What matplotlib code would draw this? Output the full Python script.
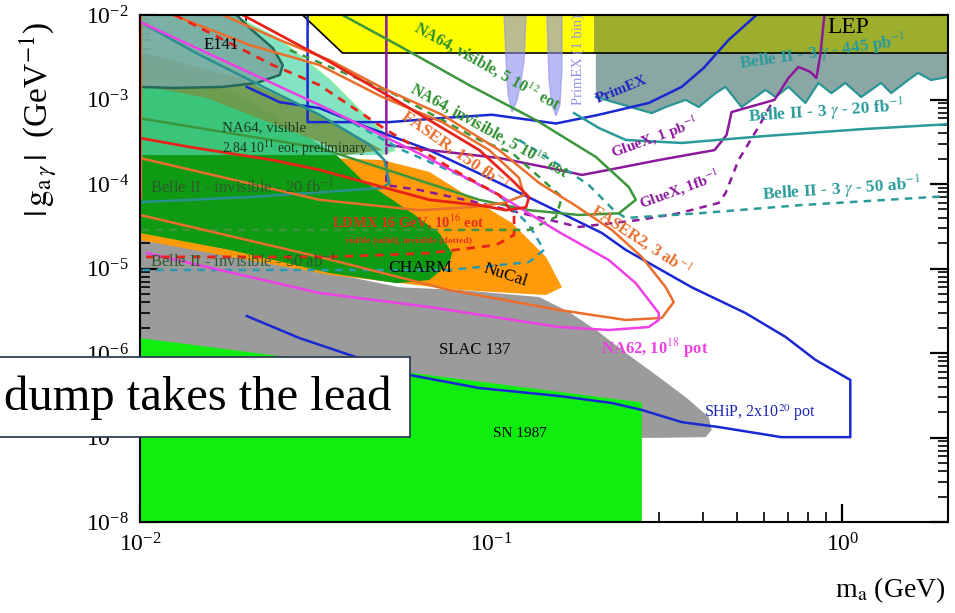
import numpy as np
import matplotlib
matplotlib.use("Agg")
import matplotlib.pyplot as plt
from matplotlib.patches import Rectangle

plt.rcParams['font.family'] = ['Liberation Serif', 'DejaVu Serif']
plt.rcParams['mathtext.fontset'] = 'stix'

# ---------------- data (mass in GeV, coupling in GeV^-1) ----------------
slac_m = [0.01, 0.018, 0.0347, 0.0548, 0.0811, 0.1369, 0.1666, 0.2027, 0.2418, 0.3001, 0.3581, 0.4163, 0.4245, 0.4082, 0.3001, 0.2685, 0.2685, 0.01]
slac_g = [2.63e-5, 1.66e-5, 8.85e-6, 6.0e-6, 5.57e-6, 4.6e-6, 3.06e-6, 1.77e-6, 1.0e-6, 5.2e-7, 3.0e-7, 1.75e-7, 1.23e-7, 1.01e-7, 9.9e-8, 9.9e-8, 1e-8, 1e-8]

sn_m = [0.01, 0.2685, 0.2685, 0.01]
sn_g = [1.5e-6, 2.6e-7, 1e-8, 1e-8]

nucal_m = [0.01, 0.03466, 0.049, 0.06667, 0.0849, 0.1147, 0.1433, 0.1591, 0.1433, 0.0811, 0.03466, 0.01]
nucal_g = [3.32e-4, 2.03e-4, 1.92e-4, 1.39e-4, 7.4e-5, 3.45e-5, 1.37e-5, 6.0e-6, 4.85e-6, 5.57e-6, 8.4e-6, 2.17e-5]

charm_m = [0.01, 0.02054, 0.03628, 0.043, 0.049, 0.05965, 0.07117, 0.0775, 0.076, 0.06667, 0.05372, 0.03466, 0.01802, 0.01]
charm_g = [2.93e-3, 9.9e-4, 2.2e-4, 1.11e-4, 7.8e-5, 4.5e-5, 2.63e-5, 1.52e-5, 1.16e-5, 7.3e-6, 6.7e-6, 8.85e-6, 1.66e-5, 2.63e-5]

na64vis_m = [0.01, 0.01837, 0.025, 0.03466, 0.04503, 0.05198, 0.05302, 0.04807, 0.01]
na64vis_g = [1e-2, 1e-2, 5.06e-3, 1.7e-3, 5.7e-4, 3.32e-4, 2.52e-4, 2.2e-4, 2.2e-4]

olive_m = [0.01, 0.01923, 0.03245, 0.049, 0.03822, 0.03245, 0.0155, 0.01]
olive_g = [3.65e-3, 1.8e-3, 6.6e-4, 2.52e-4, 2.2e-4, 3.14e-4, 1.04e-3, 1.48e-3]

e141_m = [0.01, 0.01886, 0.02054, 0.02387, 0.0255, 0.025, 0.0215, 0.01721, 0.01241, 0.01]
e141_g = [1e-2, 1e-2, 7.0e-3, 4.07e-3, 2.56e-3, 1.95e-3, 1.57e-3, 1.41e-3, 1.37e-3, 1.41e-3]

yellow_m = [0.02904, 0.03773, 0.1961, 0.1961]
yellow_g = [1e-2, 3.55e-3, 3.55e-3, 1e-2]

lep_m = [0.1961, 2.0, 2.0, 0.1961]
lep_g = [1e-2, 1e-2, 3.55e-3, 3.55e-3]

belle445_m = [0.1987, 0.1987, 0.2387, 0.2867, 0.3142, 0.3581, 0.3899, 0.4357, 0.4651, 0.5165, 0.5514, 0.6044, 0.6454,
              0.7027, 0.7852, 0.8549, 0.9308, 1.02, 1.132, 1.29, 1.378, 1.54, 1.644, 1.79, 2.0, 2.0]
belle445_g = [3.55e-3, 1.07e-3, 8.6e-4, 6.9e-4, 8.15e-4, 9.9e-4, 8.15e-4, 1.19e-3, 1.41e-3, 8.15e-4, 9.9e-4, 1.3e-3, 1.07e-3,
              1.41e-3, 9.1e-4, 1.57e-3, 1.19e-3, 1.57e-3, 1.07e-3, 1.57e-3, 1.19e-3, 1.7e-3, 2.06e-3, 1.7e-3, 1.85e-3, 3.55e-3]

primex_bin1_m = [0.1089, 0.1103, 0.1118, 0.1147, 0.1186, 0.1217, 0.1241, 0.1257]
primex_bin1_g = [1e-2, 2.93e-3, 1.13e-3, 7.1e-4, 9.9e-4, 1.7e-3, 2.93e-3, 1e-2]
primex_bin2_m = [0.1442, 0.1461, 0.149, 0.153, 0.157, 0.1591, 0.1591]
primex_bin2_g = [1e-2, 1.7e-3, 8.6e-4, 6.4e-4, 8.6e-4, 2.23e-3, 1e-2]

ship_m = [0.02014, 0.025, 0.03245, 0.04415, 0.06667, 0.1054, 0.156, 0.2067, 0.2418, 0.3724, 0.5301, 0.6891, 0.8383, 1.054,
          1.054, 0.6712, 0.4443, 0.3488, 0.2685, 0.2207, 0.156, 0.0925, 0.05848, 0.0395, 0.02848, 0.02014]
ship_g = [1.41e-3, 9.3e-4, 7.9e-4, 4.73e-4, 2.52e-4, 1.03e-4, 4.66e-5, 2.63e-5, 1.66e-5, 6.0e-6, 2.97e-6, 1.55e-6, 8.3e-7, 4.8e-7,
          1.01e-7, 1.01e-7, 1.33e-7, 1.52e-7, 2.12e-7, 2.56e-7, 3.1e-7, 3.85e-7, 5.5e-7, 9.5e-7, 1.5e-6, 2.74e-6]

primex_m = [0.03001, 0.03001, 0.0513, 0.07117, 0.1006, 0.153, 0.2027, 0.2811, 0.3488, 0.4029, 0.4743, 0.5697]
primex_g = [1e-2, 5.4e-4, 5.4e-4, 6.0e-4, 6.6e-4, 5.2e-4, 6.6e-4, 9.1e-4, 1.41e-3, 2.36e-3, 5.06e-3, 1e-2]

gluex1pb_m = [0.0503, 0.0503, 0.06667, 0.1054, 0.156, 0.1814, 0.2163, 0.3001, 0.4328, 0.4682, 0.4838, 0.6412, 0.7027,
              0.7499, 0.8113, 0.8438, 0.866, 0.8889]
gluex1pb_g = [1e-2, 2.9e-4, 2.52e-4, 2.03e-4, 1.47e-4, 1.28e-4, 1.47e-4, 1.92e-4, 2.52e-4, 3.8e-4, 7.1e-4, 9.9e-4, 1.8e-3,
              2.43e-3, 2.12e-3, 1.8e-3, 3.36e-3, 1e-2]

gluex1fb_m = [0.0503, 0.0503, 0.06245, 0.0925, 0.1282, 0.1778, 0.2633, 0.342, 0.4443, 0.4651, 0.5064, 0.5773, 0.6368]
gluex1fb_g = [2.74e-4, 9.7e-5, 8.5e-5, 5.96e-5, 4.3e-5, 3.1e-5, 3.75e-5, 4.5e-5, 5.96e-5, 7.8e-5, 1.92e-4, 4.73e-4, 9.9e-4]

belle20fb_m = [0.1722, 0.2027, 0.2418, 0.3488, 0.6044, 1.162, 2.0]
belle20fb_g = [6.9e-4, 4.6e-4, 3.32e-4, 3.06e-4, 3.7e-4, 4.48e-4, 5.1e-4]

belle50ab_m = [0.1201, 0.156, 0.1898, 0.2236, 0.2418, 0.3899, 0.7499, 2.0]
belle50ab_g = [3.32e-4, 1.68e-4, 9.7e-5, 4.9e-5, 3.96e-5, 4.5e-5, 5.6e-5, 7.2e-5]

belleinv20_m = [0.01, 0.01481, 0.02193, 0.03245, 0.04503, 0.04966, 0.0513, 0.049, 0.02054, 0.01]
belleinv20_g = [8.3e-3, 3.36e-3, 1.48e-3, 6.6e-4, 2.9e-4, 1.92e-4, 1.03e-4, 8.97e-5, 7.0e-5, 6.1e-5]

belleinv50_m = [0.03466, 0.05587, 0.0811, 0.1054, 0.1282, 0.1414, 0.1282, 0.076, 0.01]
belleinv50_g = [7.5e-4, 2.52e-4, 1.28e-4, 7.4e-5, 3.27e-5, 1.66e-5, 1.19e-5, 9.6e-6, 9.6e-6]

ldmxvis_m = [0.01962, 0.03399, 0.05478, 0.0925, 0.1147, 0.1282, 0.1257, 0.1103, 0.0925, 0.06667, 0.03245, 0.02387, 0.01387, 0.01]
ldmxvis_g = [1e-2, 2.93e-3, 9.3e-4, 2.52e-4, 1.11e-4, 7.0e-5, 5.3e-5, 4.9e-5, 5.6e-5, 6.5e-5, 1.47e-4, 1.92e-4, 2.74e-4, 3.5e-4]

ldmxinv_m = [0.01257, 0.02387, 0.03245, 0.0503, 0.0811, 0.1054, 0.1162, 0.1162, 0.1033, 0.06667, 0.03466, 0.01]
ldmxinv_g = [1e-2, 2.56e-3, 1.48e-3, 4.36e-4, 1.35e-4, 7.4e-5, 4.3e-5, 2.49e-5, 1.9e-5, 1.52e-5, 1.37e-5, 1.37e-5]

na62_m = [0.01, 0.03245, 0.06368, 0.1054, 0.156, 0.2163, 0.2582, 0.3001, 0.3001, 0.2811, 0.2163, 0.156, 0.06667, 0.03245, 0.01047]
na62_g = [8.3e-3, 8.6e-4, 2.2e-4, 7.4e-5, 2.7e-5, 1.26e-5, 6.7e-6, 2.97e-6, 2.46e-6, 2.03e-6, 1.87e-6, 2.03e-6, 3.5e-6, 5.13e-6, 1.52e-5]

faser150_m = [0.01241, 0.02054, 0.03245, 0.049, 0.07256, 0.0987, 0.1201, 0.1241, 0.1089, 0.0866, 0.06245, 0.03245, 0.01]
faser150_g = [1e-2, 4.41e-3, 2.56e-3, 1.07e-3, 5.4e-4, 2.52e-4, 1.18e-4, 7.4e-5, 5.96e-5, 5.3e-5, 4.9e-5, 6.5e-5, 2.03e-4]

faser2_m = [0.01721, 0.025, 0.03466, 0.049, 0.07256, 0.1054, 0.1369, 0.1733, 0.2207, 0.2685, 0.3142, 0.3311, 0.3061,
            0.2418, 0.156, 0.076, 0.03245, 0.01]
faser2_g = [1e-2, 5.06e-3, 2.93e-3, 1.37e-3, 6.6e-4, 2.52e-4, 1.03e-4, 5.6e-5, 2.86e-5, 1.37e-5, 6.0e-6, 4.0e-6, 2.6e-6,
            2.46e-6, 3.23e-6, 5.57e-6, 1.37e-5, 4.3e-5]

faser_edge_m = [0.01, 0.01]
faser_edge_g = [1e-2, 7.0e-5]

na64vis5_m = [0.03773, 0.05478, 0.0866, 0.1342, 0.1987, 0.2466, 0.2582, 0.2311, 0.1778, 0.1282, 0.0925, 0.03245, 0.01]
na64vis5_g = [1e-2, 4.3e-3, 1.48e-3, 5.7e-4, 2.09e-4, 9.2e-5, 6.5e-5, 4.5e-5, 4.3e-5, 4.9e-5, 6.5e-5, 2.67e-4, 6.0e-4]

na64inv5_m = [0.0267, 0.05232, 0.0925, 0.1147, 0.1591, 0.153, 0.1282, 0.0925, 0.01]
na64inv5_g = [3.85e-3, 1.19e-3, 3.32e-4, 2.33e-4, 7.0e-5, 4.07e-5, 2.86e-5, 2.86e-5, 2.86e-5]

# ---------------- figure ----------------
fig = plt.figure(figsize=(9.55, 6.13), dpi=100)
ax = fig.add_axes([140/955, 1-522/613, 808/955, 507/613])
ax.set_xscale('log')
ax.set_yscale('log')
ax.set_xlim(0.01, 2.0)
ax.set_ylim(1e-8, 1e-2)

# filled regions
ax.fill(slac_m, slac_g, color='#9b9b9b', lw=0, zorder=1)
ax.fill(nucal_m, nucal_g, color='#ff9a0a', lw=0, zorder=2)
ax.fill(charm_m, charm_g, color='#0e9a12', lw=0, zorder=3)
ax.fill(na64vis_m, na64vis_g, color='#4fd8a8', alpha=0.7, lw=0, zorder=4)
ax.plot(na64vis_m[1:-1], na64vis_g[1:-1], color='#8af0a8', lw=1.5, zorder=4.1)
ax.fill(olive_m, olive_g, color='#72984a', alpha=0.9, lw=0, zorder=5)
ax.fill(e141_m, e141_g, color='#7aa8a0', alpha=0.85, lw=0, zorder=6)
ax.plot(e141_m[1:], e141_g[1:], color='#23695a', lw=1.8, zorder=6.1)
ax.fill(sn_m, sn_g, color='#10ee10', lw=0, zorder=7)
ax.fill(yellow_m, yellow_g, color='#ffff00', lw=0, zorder=7)
ax.plot(yellow_m[:3], yellow_g[:3], color='black', lw=1.2, zorder=7.2)
ax.fill(lep_m, lep_g, color='#9cae2c', lw=0, zorder=7)
ax.fill(belle445_m, belle445_g, color='#8aa7a4', lw=0, zorder=7)
ax.plot(belle445_m[1:-1], belle445_g[1:-1], color='#2a9595', lw=1.6, zorder=7.3)
ax.plot([lep_m[0], lep_m[1]], [lep_g[2], lep_g[2]], color='black', lw=1.2, zorder=7.2)
for bm, bg in ((primex_bin1_m, primex_bin1_g), (primex_bin2_m, primex_bin2_g)):
    ax.fill(bm, bg, color='#8c8ef0', alpha=0.6, lw=1.0, ec='#8c8ef0', zorder=7.5)

# lines
lz = 10
ax.plot(ship_m, ship_g, color='#1a28d2', lw=1.8, zorder=lz)
ax.plot(primex_m, primex_g, color='#1a28d2', lw=1.8, zorder=lz)
ax.plot(gluex1pb_m, gluex1pb_g, color='#8b1a9c', lw=1.8, zorder=lz)
ax.plot(gluex1fb_m, gluex1fb_g, color='#8b1a9c', lw=1.8, ls=(0, (3, 2.5)), zorder=lz)
ax.plot(belle20fb_m, belle20fb_g, color='#2a9a9a', lw=1.8, zorder=lz)
ax.plot(belle50ab_m, belle50ab_g, color='#2a9a9a', lw=1.8, ls=(0, (3, 2.5)), zorder=lz)
ax.plot(belleinv20_m, belleinv20_g, color='#2a8f8f', lw=1.8, zorder=lz)
ax.plot(belleinv50_m, belleinv50_g, color='#2a9ab0', lw=1.8, ls=(0, (3, 2.5)), zorder=lz)
ax.plot(na64vis5_m, na64vis5_g, color='#3c963c', lw=1.8, zorder=lz)
ax.plot(na64inv5_m, na64inv5_g, color='#3c963c', lw=1.8, ls=(0, (3, 2.5)), zorder=lz)
ax.plot(faser150_m, faser150_g, color='#ea6e2c', lw=1.8, zorder=lz)
ax.plot(faser2_m, faser2_g, color='#ea6e2c', lw=1.8, zorder=lz)
ax.plot(faser_edge_m, faser_edge_g, color='#ea6e2c', lw=2.5, zorder=lz)
ax.plot(ldmxvis_m, ldmxvis_g, color='#e8231a', lw=2.0, zorder=lz + 0.5)
ax.plot(ldmxinv_m, ldmxinv_g, color='#e8231a', lw=2.0, ls=(0, (3, 2.5)), zorder=lz + 0.5)
ax.plot(na62_m, na62_g, color='#ee40e4', lw=1.8, zorder=lz)

# labels
T = ax.transAxes
def lab(x, y, s, c='black', fs=10, rot=0, w='normal', ha='center'):
    ax.text(x, y, s, transform=T, color=c, fontsize=fs, rotation=rot, fontweight=w,
            ha=ha, va='center', zorder=20, rotation_mode='anchor')

lab(0.1, 0.941, 'E141', fs=12)
lab(0.101, 0.777, 'NA64, visible', c='#1c3a1c', fs=10.8, ha='left')
lab(0.101, 0.738, r'2.84 10$^{11}$ eot, preliminary', c='#1c3a1c', fs=10, ha='left')
lab(0.0124, 0.659, r'Belle II - invisible - 20 fb$^{-1}$', c='#2e5a2e', fs=12, ha='left')
lab(0.0124, 0.513, r'Belle II - invisible - 50 ab$^{-1}$', c='#2e5a2e', fs=12, ha='left')
lab(0.3465, 0.501, 'CHARM', fs=12.5)
lab(0.452, 0.487, 'NuCal', fs=12.5, rot=-18)
lab(0.332, 0.592, r'LDMX 16 GeV, 10$^{16}$ eot', c='#e0301e', fs=10.5, w='bold')
lab(0.332, 0.556, 'visible (solid), invisible (dotted)', c='#e0301e', fs=6.8, w='bold')
lab(0.4146, 0.339, 'SLAC 137', fs=12)
lab(0.4703, 0.1755, 'SN 1987', fs=11)
lab(0.767, 0.215, r'SHiP, 2x10$^{20}$ pot', c='#1f24b0', fs=11.5)
lab(0.637, 0.343, r'NA62, 10$^{18}$ pot', c='#ee40e4', fs=12, w='bold')
lab(0.62, 0.556, r'FASER2, 3 ab$^{-1}$', c='#ea6e2c', fs=12, w='bold', rot=-33)
lab(0.39, 0.734, r'FASER, 150 fb$^{-1}$', c='#ea6e2c', fs=12.5, w='bold', rot=-35)
lab(0.433, 0.773, r'NA64, invisible, 5 10$^{12}$ eot', c='#2f8f2f', fs=11.5, w='bold', rot=-29)
lab(0.43, 0.90, r'NA64, visible, 5 10$^{12}$ eot', c='#2f8f2f', fs=11.5, w='bold', rot=-29)
lab(0.5965, 0.852, 'PrimEX', c='#1f24c0', fs=11, w='bold', rot=22)
lab(0.542, 0.912, 'PrimEX (1 bin)', c='#9090e6', fs=10.5, rot=90)
lab(0.637, 0.757, r'GlueX, 1 pb$^{-1}$', c='#8b1a9c', fs=11, w='bold', rot=20)
lab(0.668, 0.655, r'GlueX, 1fb$^{-1}$', c='#8b1a9c', fs=11, w='bold', rot=20)
lab(0.849, 0.809, r'Belle II - 3 $\gamma$ - 20 fb$^{-1}$', c='#2a9a9a', fs=12.5, w='bold', rot=4)
lab(0.868, 0.655, r'Belle II - 3 $\gamma$ - 50 ab$^{-1}$', c='#2a9a9a', fs=12.5, w='bold', rot=4)
lab(0.845, 0.925, r'Belle II - 3 $\gamma$ - 445 pb$^{-1}$', c='#2a9a9a', fs=12.5, w='bold', rot=8)
lab(0.876, 0.975, 'LEP', fs=17)

# axes styling
for s in ax.spines.values():
    s.set_linewidth(1.5)
    s.set_zorder(15)
ax.tick_params(which='major', direction='in', length=13, width=1.6, right=True, top=True, labelsize=17, pad=8)
ax.tick_params(which='minor', direction='in', length=7, width=1.2, right=True, top=True)
ax.set_axisbelow(False)

fig.text(0.9895, 0.0375, r'm$_{\mathrm{a}}$ (GeV)', ha='right', va='center', fontsize=20)
fig.text(0.04, 0.805, r'$|\,\mathrm{g}_{\mathrm{a}\,\gamma}\,|$  (GeV$^{-1}$)', ha='center', va='center',
         rotation=90, fontsize=24)

# overlay slide box
fig.patches.append(Rectangle((-0.01, 1-437/613), 0.01 + 410/955, 80/613, transform=fig.transFigure,
                             facecolor='white', edgecolor='#2f3f55', lw=1.3, zorder=30))
fig.text(392/955, 1-398/613, 'dump takes the lead', ha='right', va='center', fontsize=35, zorder=31)

fig.savefig('out.png', dpi=100)
